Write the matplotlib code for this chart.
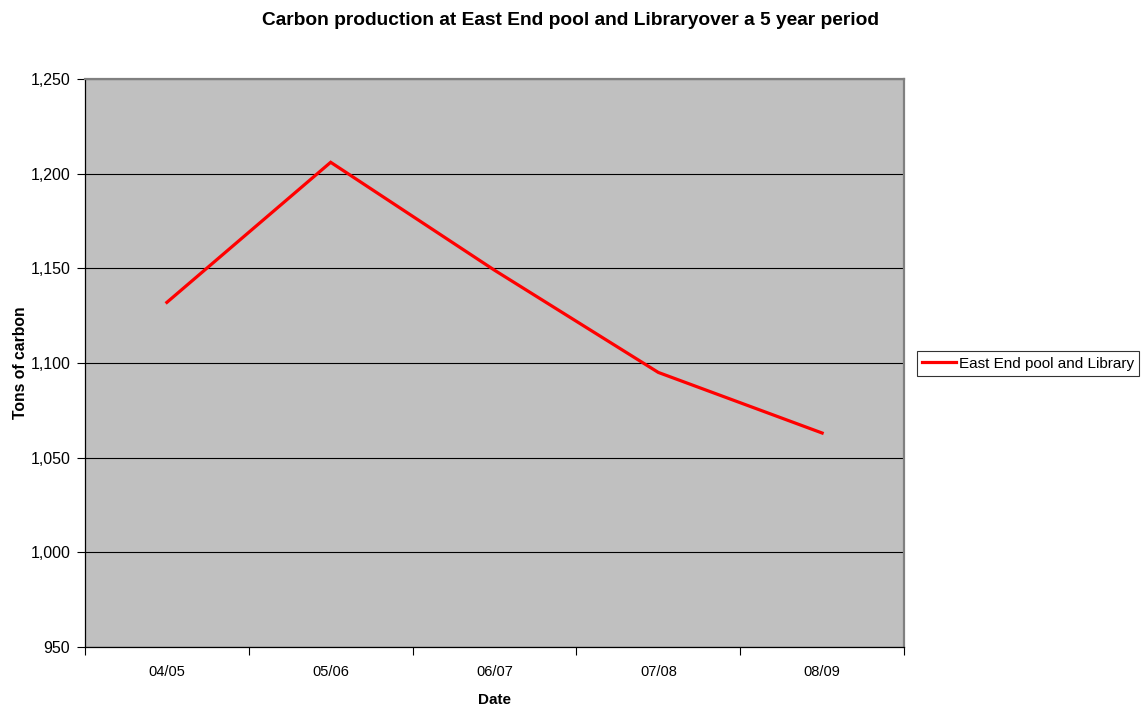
import matplotlib.pyplot as plt
from matplotlib.ticker import FuncFormatter, FixedLocator

plt.rcParams["font.family"] = ["Liberation Sans", "DejaVu Sans"]

years = ["04/05", "05/06", "06/07", "07/08", "08/09"]
carbon_tons = [1132, 1206, 1149, 1095, 1063]
series_name = "East End pool and Library"


def main():
    fig = plt.figure(figsize=(11.48, 7.09), dpi=100)
    ax = fig.add_axes([0.0740, 0.0875, 0.7135, 0.8011])
    ax.set_facecolor("#c0c0c0")

    x = list(range(len(years)))
    line, = ax.plot(x, carbon_tons, color="#ff0000", linewidth=2.3,
                    solid_joinstyle="miter", zorder=3)

    ax.set_xlim(-0.5, len(years) - 0.5)
    ax.set_ylim(950, 1250)

    # categories sit between the tick marks, like a spreadsheet chart
    ax.xaxis.set_major_locator(FixedLocator(x))
    ax.xaxis.set_minor_locator(FixedLocator([i - 0.5 for i in range(len(years) + 1)]))
    ax.set_xticklabels(years)
    ax.tick_params(axis="x", which="major", length=0, pad=13, labelsize=10.5)
    ax.tick_params(axis="x", which="minor", length=5.5, width=0.8, direction="out")

    ax.set_yticks(range(950, 1251, 50))
    ax.yaxis.set_major_formatter(FuncFormatter(lambda v, _: f"{int(v):,}"))
    ax.tick_params(axis="y", length=5.5, width=0.8, pad=5, labelsize=11.5)

    ax.yaxis.grid(True, color="black", linewidth=0.8)
    ax.set_axisbelow(True)

    for side in ("top", "right"):
        ax.spines[side].set_color("#808080")
        ax.spines[side].set_linewidth(1.6)
    for side in ("left", "bottom"):
        ax.spines[side].set_color("black")
        ax.spines[side].set_linewidth(0.9)

    ax.set_xlabel("Date", fontweight="bold", fontsize=11, labelpad=10)
    ax.set_ylabel("Tons of carbon", fontweight="bold", fontsize=11.3, labelpad=2)

    fig.suptitle("Carbon production at East End pool and Libraryover a 5 year period",
                 fontweight="bold", fontsize=13.8, x=0.497, y=0.983)

    leg = fig.legend([line], [series_name], loc="center left",
                     bbox_to_anchor=(0.7985, 0.487), fontsize=11,
                     frameon=True, fancybox=False, handlelength=2.2,
                     handletextpad=0.2, borderpad=0.35, borderaxespad=0)
    leg.get_frame().set_edgecolor("black")
    leg.get_frame().set_linewidth(0.8)

    fig.savefig("out.png", dpi=100)
    plt.close(fig)


if __name__ == "__main__":
    main()
